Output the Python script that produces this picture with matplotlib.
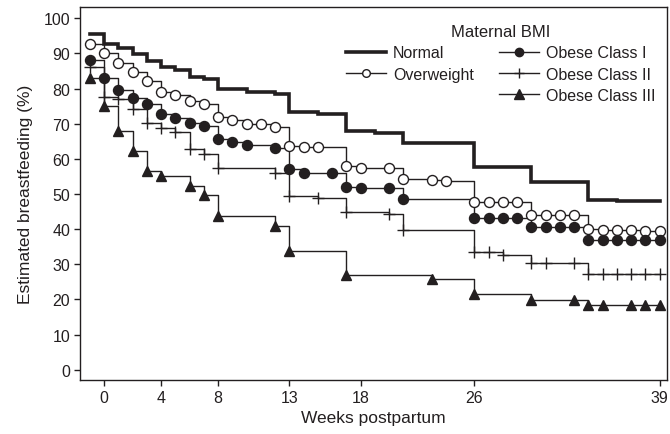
import matplotlib

matplotlib.use("Agg")
import matplotlib.pyplot as plt
from matplotlib.lines import Line2D

plt.rcParams["font.family"] = ["Liberation Sans", "DejaVu Sans"]

INK = "#231f20"

# weeks postpartum and estimated breastfeeding (%) per maternal BMI group
normal_t = [-1, 0, 1, 2, 3, 4, 5, 6, 7, 8, 10, 12, 13, 15, 17, 19, 21, 26, 30, 34, 36, 39]
normal_s = [95.4, 92.8, 91.5, 89.8, 87.9, 86.0, 85.2, 83.4, 82.6, 79.8, 78.9, 78.4,
            73.2, 72.8, 67.8, 67.4, 64.4, 57.8, 53.3, 48.3, 48.0, 48.0]

over_t = [-1, 0, 1, 2, 3, 4, 5, 6, 7, 8, 9, 10, 11, 12, 13, 14, 15, 17, 18, 20, 21, 23, 24,
          26, 27, 28, 29, 30, 31, 32, 33, 34, 35, 36, 37, 38, 39]
over_s = [92.8, 90.0, 87.4, 84.8, 82.2, 79.0, 78.1, 76.5, 75.5, 71.8, 71.1, 70.0, 69.8, 69.1,
          63.7, 63.4, 63.4, 58.0, 57.5, 57.3, 54.2, 54.0, 53.8, 47.8, 47.8, 47.8, 47.8,
          44.0, 44.0, 44.0, 44.0, 40.0, 39.8, 39.8, 39.8, 39.6, 39.5]

ob1_t = [-1, 0, 1, 2, 3, 4, 5, 6, 7, 8, 9, 10, 12, 13, 14, 16, 17, 18, 20, 21,
         26, 27, 28, 29, 30, 31, 32, 33, 34, 35, 36, 37, 38, 39]
ob1_s = [88.2, 82.9, 79.7, 77.3, 75.5, 72.7, 71.6, 70.1, 69.4, 65.6, 64.8, 63.9, 63.0,
         57.1, 56.1, 55.9, 51.9, 51.7, 51.6, 48.5, 43.3, 43.3, 43.3, 43.3,
         40.5, 40.5, 40.5, 40.5, 37.0, 37.0, 37.0, 37.0, 37.0, 37.0]

ob2_t = [-1, 0, 1, 2, 3, 4, 5, 6, 7, 8, 12, 13, 15, 17, 20, 21, 26, 27, 28, 30, 31, 33,
         34, 35, 36, 37, 38, 39]
ob2_s = [86.0, 77.6, 77.0, 74.1, 70.3, 68.9, 67.5, 62.8, 61.3, 57.3, 55.9, 49.5, 48.8,
         44.8, 44.3, 39.8, 33.4, 33.4, 32.6, 30.5, 30.5, 30.5, 27.2, 27.2, 27.2, 27.2, 27.2, 27.2]

ob3_t = [-1, 0, 1, 2, 3, 4, 6, 7, 8, 12, 13, 17, 23, 26, 30, 33, 34, 35, 37, 38, 39]
ob3_s = [83.1, 74.9, 68.0, 62.3, 56.6, 55.2, 52.4, 49.7, 43.8, 41.0, 33.8, 27.0, 25.7,
         21.5, 19.9, 19.9, 18.4, 18.4, 18.4, 18.4, 18.4]

x_ticks = [0, 4, 8, 13, 18, 26, 39]
y_ticks = list(range(0, 101, 10))

fig = plt.figure(figsize=(6.7, 4.35), dpi=100)
ax = fig.add_axes([0.1194, 0.1241, 0.8761, 0.8575])

ax.step(normal_t, normal_s, where="post", color=INK, lw=2.6, solid_joinstyle="miter", zorder=3)

ax.step(over_t, over_s, where="post", color=INK, lw=1.0, zorder=2)
ax.plot(over_t, over_s, ls="none", marker="o", ms=7.2, mfc="white", mec=INK, mew=1.0, zorder=4)

ax.step(ob1_t, ob1_s, where="post", color=INK, lw=1.0, zorder=2)
ax.plot(ob1_t, ob1_s, ls="none", marker="o", ms=7.2, mfc=INK, mec=INK, zorder=4)

ax.step(ob2_t, ob2_s, where="post", color=INK, lw=1.0, zorder=2)
ax.plot(ob2_t, ob2_s, ls="none", marker="+", ms=8, mec=INK, mew=1.0, zorder=4)

ax.step(ob3_t, ob3_s, where="post", color=INK, lw=1.0, zorder=2)
ax.plot(ob3_t, ob3_s, ls="none", marker="^", ms=7.5, mfc=INK, mec=INK, zorder=4)

ax.set_xlim(-1.7, 39.52)
ax.set_ylim(-2.93, 103.2)
ax.set_xticks(x_ticks)
ax.set_yticks(y_ticks)
ax.tick_params(direction="out", length=4, width=1, colors=INK, labelsize=11.5, pad=3)
for sp in ax.spines.values():
    sp.set_color(INK)
    sp.set_linewidth(1.0)

ax.set_xlabel("Weeks postpartum", fontsize=12.5, color=INK, labelpad=4)
ax.set_ylabel("Estimated breastfeeding (%)", fontsize=12.5, color=INK, labelpad=8)

handles = [
    Line2D([], [], color=INK, lw=2.6),
    Line2D([], [], color=INK, lw=1.0, marker="o", ms=5.5, mfc="white", mec=INK),
    Line2D([], [], color="none"),
    Line2D([], [], color=INK, lw=1.0, marker="o", ms=6, mfc=INK, mec=INK),
    Line2D([], [], color=INK, lw=1.0, marker="+", ms=7, mec=INK),
    Line2D([], [], color=INK, lw=1.0, marker="^", ms=6.5, mfc=INK, mec=INK),
]
labels = ["Normal", "Overweight", "", "Obese Class I", "Obese Class II", "Obese Class III"]
leg = ax.legend(handles, labels, ncol=2, loc="upper center", bbox_to_anchor=(0.717, 0.985),
                frameon=False, fontsize=11.5, title="Maternal BMI", title_fontsize=12,
                handlelength=2.5, handletextpad=0.45, columnspacing=1.6, labelspacing=0.4,
                borderpad=0.2)
leg.get_title().set_color(INK)
for t in leg.get_texts():
    t.set_color(INK)

fig.savefig("out.png", dpi=100, facecolor="white")
